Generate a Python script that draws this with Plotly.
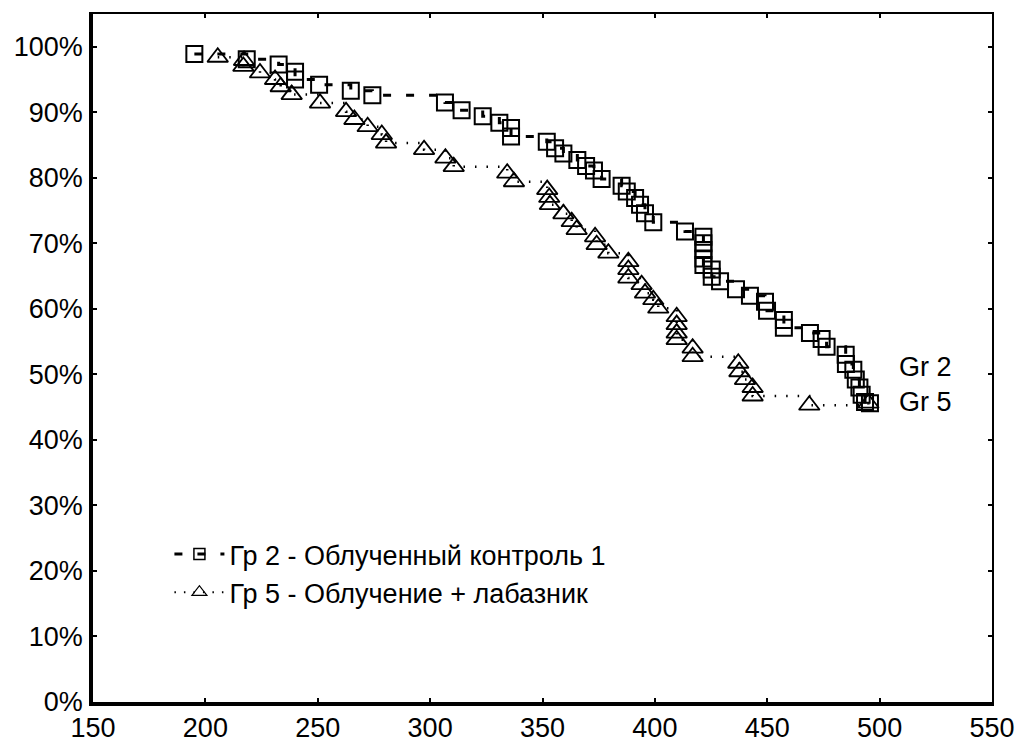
import plotly.graph_objects as go

# Group 2 - squares (time, survival %)
g2_x = [195.1, 218.4, 232.6, 239.9, 239.9, 250.6, 264.7, 274.3, 306.6, 314.0,
        323.4, 330.8, 336.0, 336.0, 351.9, 355.6, 359.3, 365.5, 369.4, 372.9,
        376.3, 385.2, 387.5, 391.2, 393.4, 395.6, 399.3, 413.4, 421.6, 421.6,
        421.6, 421.6, 421.6, 425.3, 425.3, 429.0, 436.1, 442.3, 449.0, 449.9,
        457.4, 457.4, 469.0, 474.2, 476.4, 484.9, 485.0, 488.3, 489.4, 491.0,
        492.0, 493.5, 495.7]
g2_y = [98.9, 98.1, 97.3, 96.2, 95.0, 94.2, 93.3, 92.6, 91.5, 90.3,
        89.4, 88.4, 87.6, 86.3, 85.5, 84.5, 83.7, 82.7, 81.8, 81.1,
        79.8, 78.8, 77.9, 76.9, 75.9, 74.6, 73.2, 71.8, 71.0, 70.0,
        69.0, 67.7, 66.7, 66.0, 64.9, 64.2, 63.0, 62.0, 61.1, 59.7,
        58.3, 57.1, 56.3, 55.4, 54.2, 53.0, 51.6, 50.7, 49.2, 48.0,
        46.9, 45.8, 45.6]

# Group 5 - triangles
g5_x = [205.5, 217.2, 216.9, 224.3, 231.0, 233.5, 238.4, 251.0, 262.6, 266.3,
        272.2, 278.5, 280.4, 297.3, 306.8, 310.5, 334.3, 337.3, 352.1, 353.0,
        353.3, 359.3, 363.0, 365.2, 373.4, 374.1, 379.3, 388.2, 388.2, 388.2,
        394.1, 395.6, 399.3, 401.5, 409.7, 409.7, 409.7, 409.7, 416.8, 416.8,
        437.1, 437.6, 440.1, 443.5, 443.5, 468.7, 495.0]
g5_y = [98.4, 97.9, 97.0, 96.0, 95.0, 93.9, 92.7, 91.4, 90.1, 88.9,
        87.8, 86.6, 85.3, 84.3, 83.0, 81.7, 80.7, 79.4, 78.2, 77.0,
        75.9, 74.5, 73.3, 72.1, 71.0, 69.8, 68.5, 67.2, 66.0, 64.7,
        63.7, 62.4, 61.4, 60.1, 58.8, 57.6, 56.3, 55.3, 54.0, 52.7,
        51.7, 50.4, 49.2, 48.0, 46.7, 45.3, 45.6]

x_ticks = [150, 200, 250, 300, 350, 400, 450, 500, 550]
y_ticks = [0, 10, 20, 30, 40, 50, 60, 70, 80, 90, 100]

name2 = "Гр 2 - Облученный контроль 1"
name5 = "Гр 5 - Облучение + лабазник"
end_labels = ["Gr 2", "Gr 5"]
end_label_y = [51.1, 45.8]

FONT = "Liberation Sans, Arial, sans-serif"
FS = 27

fig = go.Figure()

fig.add_trace(go.Scatter(
    x=g2_x, y=g2_y, mode="lines+markers", line_shape="hv",
    line=dict(color="black", width=3, dash="8px,15px"),
    marker=dict(symbol="square-open", size=16, color="black", line=dict(width=2, color="black")),
    showlegend=False))
fig.add_trace(go.Scatter(
    x=g5_x, y=g5_y, mode="lines+markers", line_shape="hv",
    line=dict(color="black", width=2.5, dash="1.5px,10px"),
    marker=dict(symbol="triangle-up-open", size=18, color="black", line=dict(width=1.8, color="black")),
    showlegend=False))

# legend-only dummies with small symbols
fig.add_trace(go.Scatter(
    x=[None], y=[None], mode="lines+markers", name=name2, legendgroup="a",
    line=dict(color="black", width=3, dash="8px,15px"),
    marker=dict(symbol="square-open", size=11, color="black", line=dict(width=1.5, color="black"))))
fig.add_trace(go.Scatter(
    x=[None], y=[None], mode="lines+markers", name=name5, legendgroup="b",
    line=dict(color="black", width=2, dash="1.5px,8px"),
    marker=dict(symbol="triangle-up-open", size=13, color="black", line=dict(width=1.2, color="black"))))

# thin top / right frame with inside ticks
fig.add_trace(go.Scatter(x=[None], y=[None], xaxis="x2", yaxis="y2", showlegend=False))

for lab, yy in zip(end_labels, end_label_y):
    fig.add_annotation(x=507.7, y=yy, xref="x", yref="y", text=lab, showarrow=False,
                       xanchor="left", yanchor="middle", font=dict(size=FS, color="black", family=FONT))

axis_common = dict(showgrid=False, zeroline=False, ticks="inside", ticklen=4, tickwidth=2,
                   tickcolor="black", linecolor="black", automargin=False)

fig.update_layout(
    width=1019, height=742,
    margin=dict(l=93, r=27, t=14, b=40, autoexpand=False),
    paper_bgcolor="white", plot_bgcolor="white",
    font=dict(family=FONT, size=FS, color="black"),
    xaxis=dict(range=[150, 550], tickvals=x_ticks, ticktext=[str(v) for v in x_ticks],
               showline=True, linewidth=3.5, ticklabelstandoff=-1,
               tickfont=dict(size=FS, family=FONT, color="black"), **axis_common),
    yaxis=dict(range=[0, 105], tickvals=y_ticks, ticktext=[f"{v}%" for v in y_ticks],
               showline=True, linewidth=3.5, ticklabelstandoff=1,
               tickfont=dict(size=FS, family=FONT, color="black"), **axis_common),
    xaxis2=dict(range=[150, 550], overlaying="x", side="top", tickvals=x_ticks,
                showticklabels=False, showline=True, linewidth=1.5, **axis_common),
    yaxis2=dict(range=[0, 105], overlaying="y", side="right", tickvals=y_ticks,
                showticklabels=False, showline=True, linewidth=1.5, **axis_common),
    legend=dict(x=0.085, y=0.25, xanchor="left", yanchor="top", bgcolor="rgba(0,0,0,0)",
                font=dict(size=FS, family=FONT, color="black"), traceorder="grouped",
                tracegroupgap=0, itemwidth=50),
)

fig.write_html("out.html", config={"displayModeBar": False},
               post_script="document.body.style.margin='0';document.body.style.overflow='hidden';")
